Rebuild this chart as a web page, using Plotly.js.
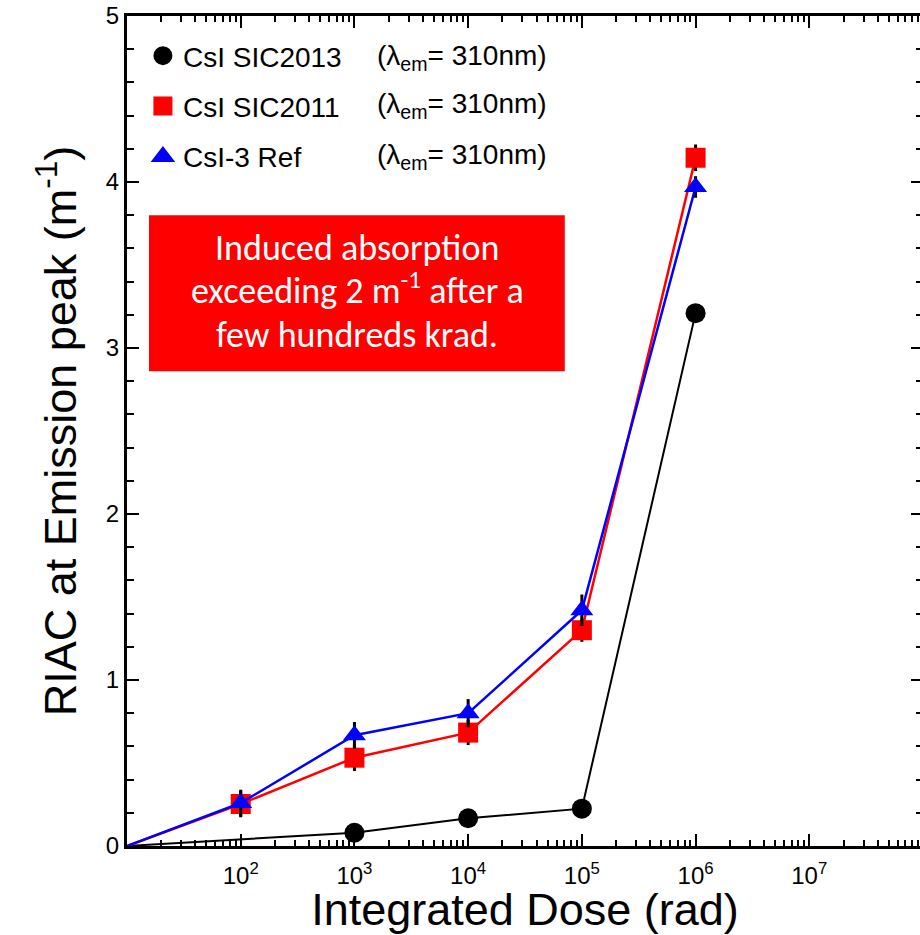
<!DOCTYPE html>
<html>
<head>
<meta charset="utf-8">
<script src="https://cdn.plot.ly/plotly-3.0.1.min.js"></script>
<style>
html, body { margin: 0; padding: 0; overflow: hidden; background: #fff; }
#chart { width: 930px; height: 935px; }
</style>
</head>
<body>
<div id="chart"></div>
<script>
// ---- data (dose in rad; first point = unirradiated, drawn at the left edge) ----
const dose_sic2013 = [10, 1e3, 1e4, 1e5, 1e6];
const riac_sic2013 = [0, 0.08, 0.167, 0.225, 3.21];

const dose_sic2011 = [10, 1e2, 1e3, 1e4, 1e5, 1e6];
const riac_sic2011 = [0, 0.253, 0.532, 0.683, 1.30, 4.146];
const err_sic2011  = [0, 0.08, 0.08, 0.075, 0.07, 0.08];

const dose_ref = [10, 1e2, 1e3, 1e4, 1e5, 1e6];
const riac_ref = [0, 0.259, 0.667, 0.80, 1.42, 3.97];
const err_ref  = [0, 0.08, 0.08, 0.085, 0.095, 0.065];

const names = ["CsI SIC2013", "CsI SIC2011", "CsI-3 Ref"];
const lambdaLabel = "(λ<sub>em</sub>= 310nm)";
const xTickVals = [1e2, 1e3, 1e4, 1e5, 1e6, 1e7];
const xTickText = ["10<sup>2</sup>", "10<sup>3</sup>", "10<sup>4</sup>", "10<sup>5</sup>", "10<sup>6</sup>", "10<sup>7</sup>"];
const boxLines = ["Induced absorption", "exceeding 2 m<sup>-1</sup> after a", "few hundreds krad."];

// ---- styling ----
const FONT = "Arial, 'Liberation Sans', sans-serif";
const MS = 20;
const sizesFor = d => d.map((v, i) => (i === 0 ? 0 : MS));

const minorX = [];
for (let e = 1; e < 8; e++) for (let k = 2; k <= 9; k++) minorX.push(k * Math.pow(10, e));

const series = [
  {x: dose_sic2013, y: riac_sic2013, err: null, color: "#000000", symbol: "circle", lw: 2},
  {x: dose_sic2011, y: riac_sic2011, err: err_sic2011, color: "#ff0000", symbol: "square", lw: 2.5},
  {x: dose_ref, y: riac_ref, err: err_ref, color: "#0000ff", symbol: "triangle-up", lw: 2.5}
];

const traces = [];
series.forEach((s, i) => {
  const t = {
    type: "scatter", mode: "lines+markers", x: s.x, y: s.y,
    line: {color: s.color, width: s.lw},
    marker: {color: s.color, symbol: s.symbol, size: sizesFor(s.x), opacity: 1, line: {width: 0}},
    showlegend: false, hoverinfo: "x+y", cliponaxis: true
  };
  if (s.err) t.error_y = {type: "data", array: s.err, visible: true, color: "#000000", thickness: 3, width: 0};
  traces.push(t);
});
// legend entries (marker only)
series.forEach((s, i) => {
  traces.push({
    type: "scatter", mode: "markers", x: [null], y: [null], name: names[i],
    legendgroup: "g" + i,
    marker: {color: s.color, symbol: s.symbol, size: 16, opacity: 1, line: {width: 3, color: s.color}}
  });
});

const rowY = [0.9506, 0.8916, 0.8313];
const annotations = rowY.map(y => ({
  xref: "paper", yref: "paper", x: 0.3116, y: y, xanchor: "left", yanchor: "middle",
  text: lambdaLabel, showarrow: false, font: {family: FONT, size: 28, color: "#000"}
}));
const boxY = [0.7205, 0.6713, 0.6156];
boxLines.forEach((txt, i) => annotations.push({
  xref: "paper", yref: "paper", x: 0.289, y: boxY[i], xanchor: "center", yanchor: "middle",
  text: txt, showarrow: false, align: "center", borderpad: 0,
  font: {family: "Carlito, Calibri, 'Open Sans', sans-serif", size: 36, color: "#ffffff"}
}));

const layout = {
  width: 930, height: 935,
  margin: {l: 127, r: 7, t: 16, b: 89},
  paper_bgcolor: "#ffffff", plot_bgcolor: "#ffffff",
  font: {family: FONT, color: "#000"},
  showlegend: true,
  legend: {x: 0.02, y: 0.982, xanchor: "left", yanchor: "top", bgcolor: "rgba(0,0,0,0)",
           font: {family: FONT, size: 28, color: "#000"}, tracegroupgap: 11, itemsizing: "trace"},
  xaxis: {
    type: "log", range: [1, 8], showgrid: false, zeroline: false,
    showline: true, linecolor: "#000", linewidth: 3, mirror: "ticks",
    ticks: "inside", ticklen: 12, tickwidth: 2, tickcolor: "#000",
    tickmode: "array", tickvals: xTickVals, ticktext: xTickText,
    tickfont: {family: FONT, size: 24, color: "#000"}, ticklabelstandoff: 6,
    minor: {ticks: "inside", ticklen: 6, tickwidth: 2, tickcolor: "#000", tickmode: "array", tickvals: minorX, showgrid: false},
    title: {text: "Integrated Dose (rad)", font: {family: FONT, size: 45, color: "#000"}, standoff: 4}
  },
  yaxis: {
    range: [0, 5], showgrid: false, zeroline: false,
    showline: true, linecolor: "#000", linewidth: 3, mirror: "ticks",
    ticks: "inside", ticklen: 12, tickwidth: 2, tickcolor: "#000",
    tickmode: "linear", tick0: 0, dtick: 1,
    tickfont: {family: FONT, size: 24, color: "#000"},
    minor: {ticks: "inside", ticklen: 7, tickwidth: 2, tickcolor: "#000", dtick: 0.2, showgrid: false},
    title: {text: "RIAC at Emission peak (m<sup>-1</sup>)", font: {family: FONT, size: 45, color: "#000"}, standoff: 16}
  },
  shapes: [{
    type: "rect", xref: "paper", yref: "paper", x0: 0.0276, x1: 0.550, y0: 0.572, y1: 0.760,
    fillcolor: "#ff0000", line: {width: 0}, layer: "above"
  }],
  annotations: annotations
};

Plotly.newPlot("chart", traces, layout, {displayModeBar: false, staticPlot: true});
</script>
</body>
</html>
